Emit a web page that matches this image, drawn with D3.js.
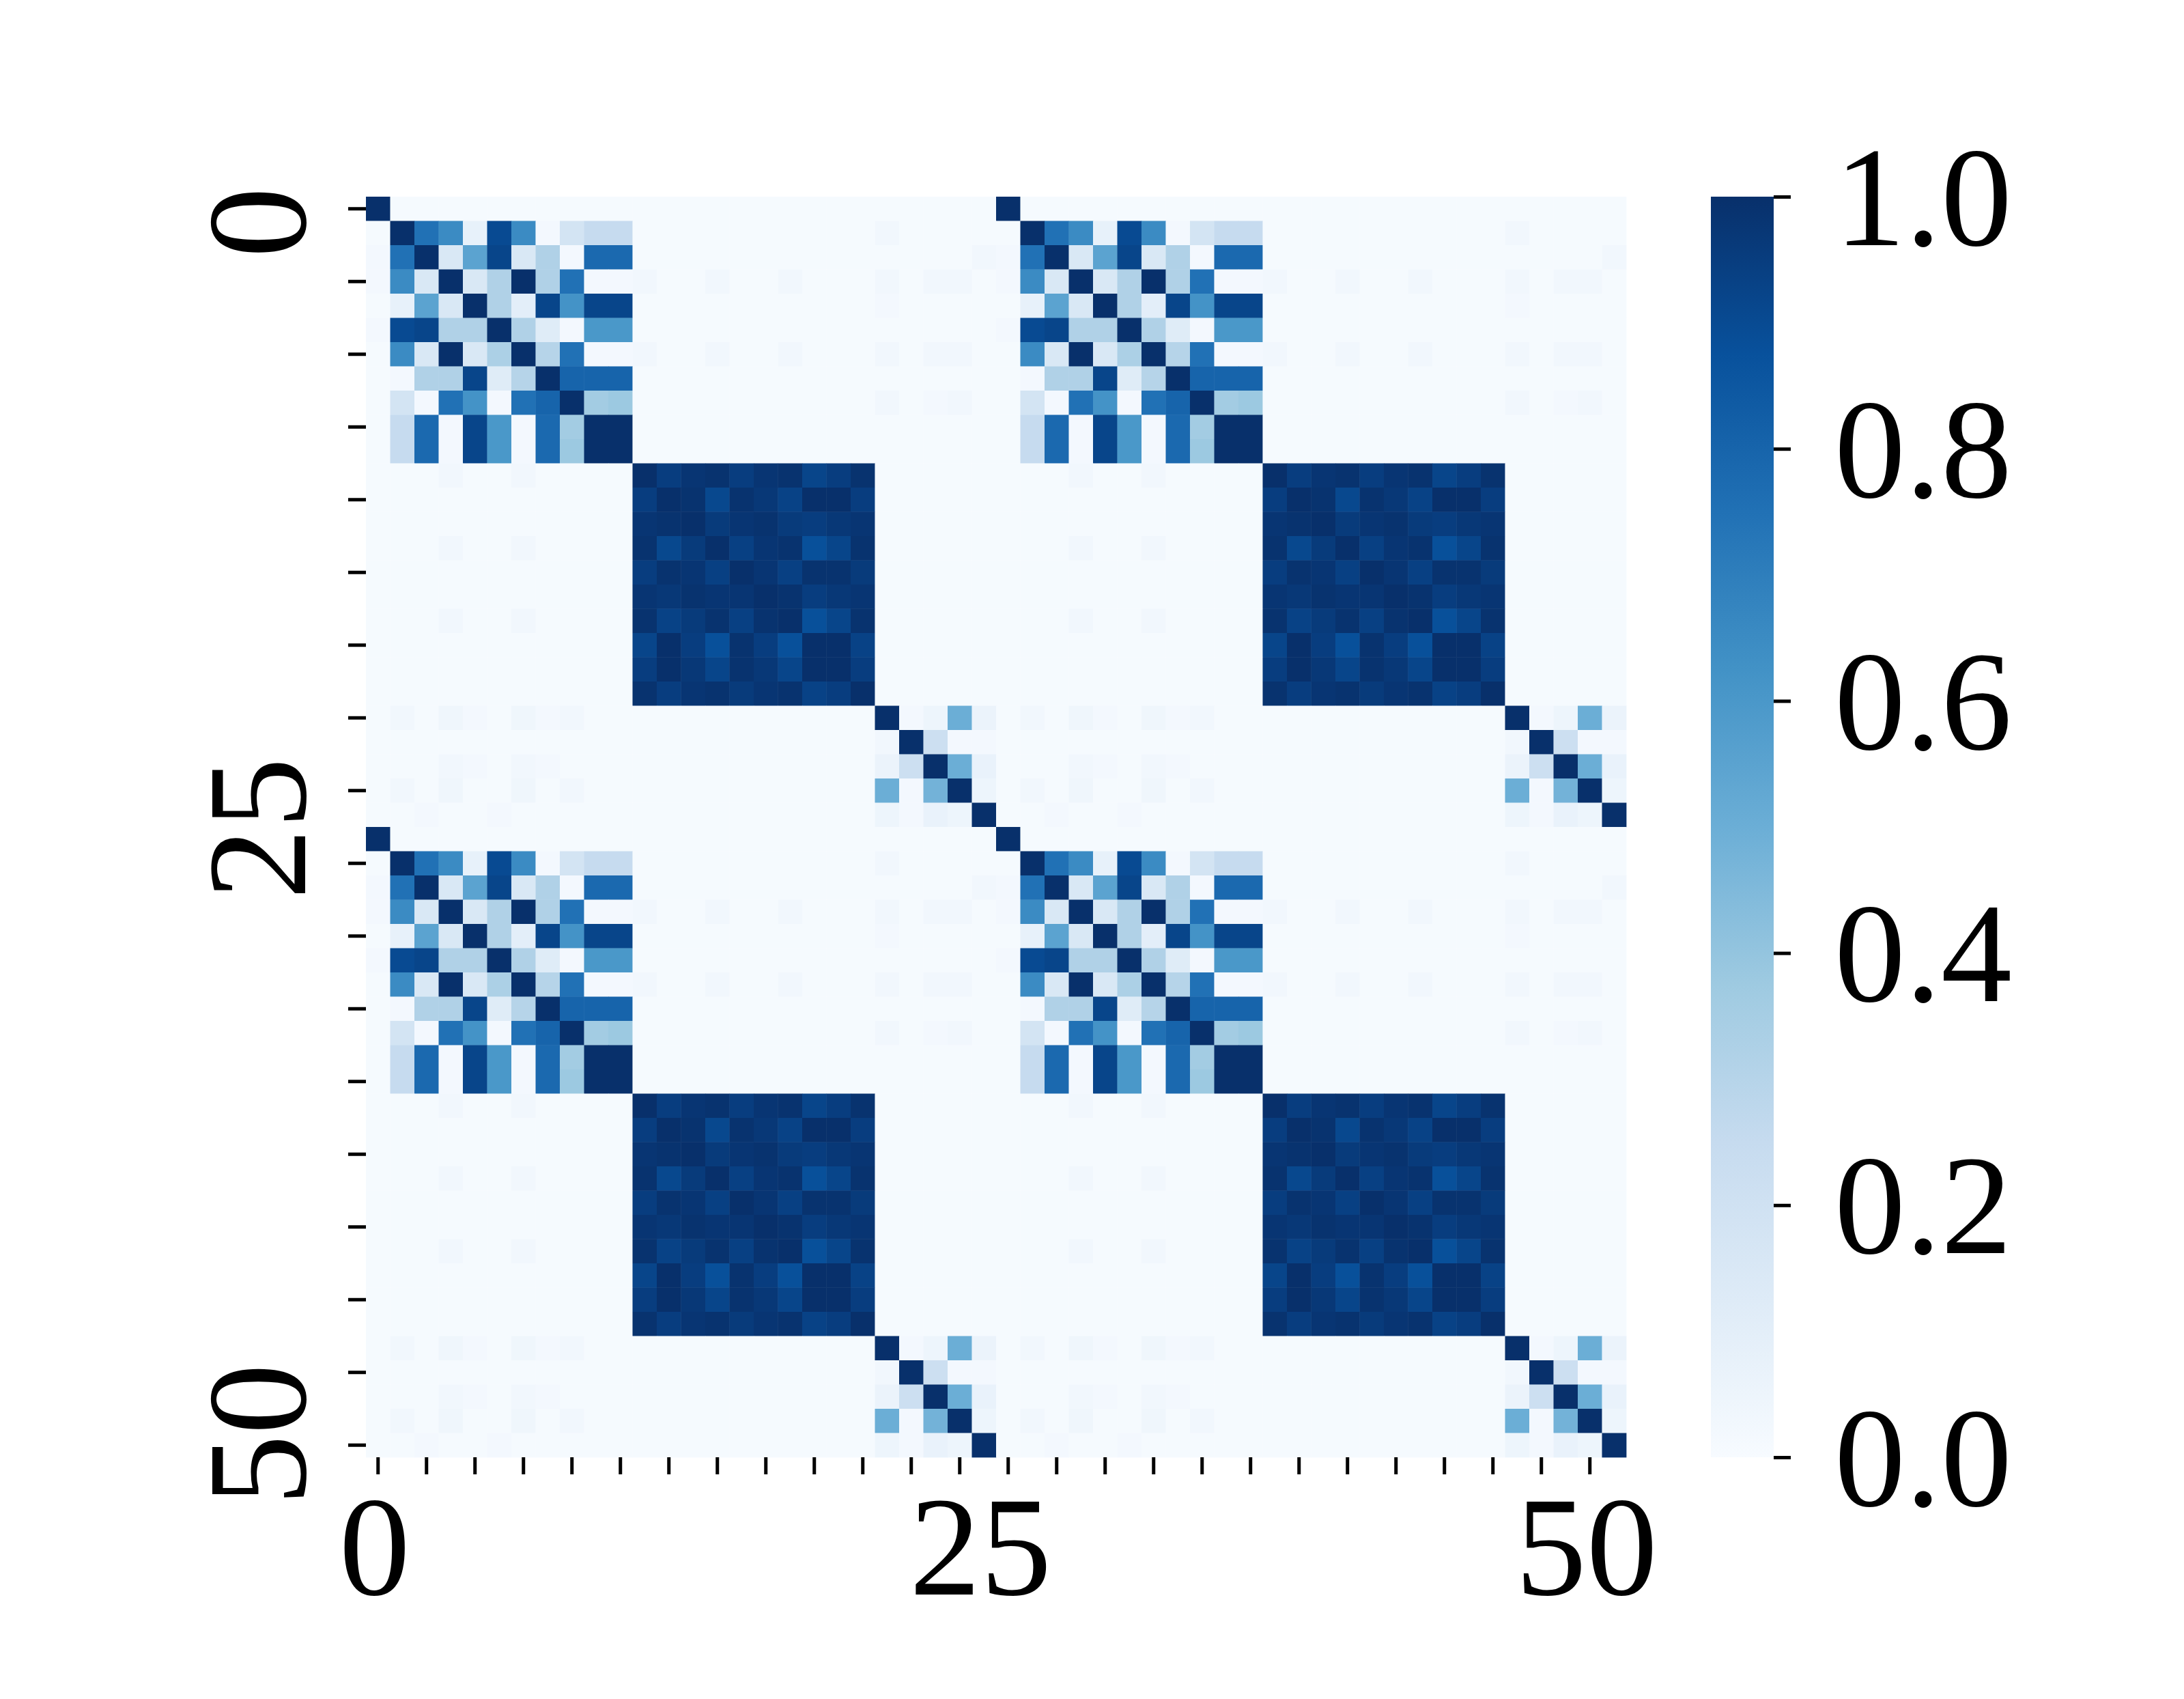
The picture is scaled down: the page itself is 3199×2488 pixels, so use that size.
<!DOCTYPE html>
<html>
<head>
<meta charset="utf-8">
<script src="https://cdn.jsdelivr.net/npm/d3@7"></script>
<style>
  body { margin: 0; background: #ffffff; }
  svg { display: block; }
  .lbl { font-family: "Liberation Serif", "Times New Roman", serif; font-size: 208px; fill: #000000; }
</style>
</head>
<body>
<div id="heatmap"></div>
<script>

// tick labels
var xTickLabels = [0, 25, 50];
var yTickLabels = [0, 25, 50];
var colorbarTicks = [0.0, 0.2, 0.4, 0.6, 0.8, 1.0];

// one 26 x 26 tile of the matrix
// (the full 52 x 52 picture is this tile repeated 2 x 2)
var baseMatrix = [
  [1.00, 0.01,0.01,0.01,0.01,0.01,0.01,0.01,0.01,0.01,0.01, 0.01,0.01,0.01,0.01,0.01,0.01,0.01,0.01,0.01,0.01, 0.01,0.01,0.01,0.01,0.01],
  [0.01, 1.00,0.75,0.65,0.08,0.90,0.65,0.02,0.18,0.25,0.25, 0.01,0.01,0.01,0.01,0.01,0.01,0.01,0.01,0.01,0.01, 0.03,0.01,0.01,0.01,0.01],
  [0.02, 0.75,1.00,0.15,0.55,0.92,0.15,0.32,0.02,0.78,0.78, 0.01,0.01,0.01,0.01,0.01,0.01,0.01,0.01,0.01,0.01, 0.01,0.01,0.01,0.01,0.03],
  [0.02, 0.65,0.15,1.00,0.15,0.32,1.00,0.32,0.75,0.02,0.02, 0.03,0.01,0.01,0.03,0.01,0.01,0.03,0.01,0.01,0.01, 0.03,0.01,0.03,0.03,0.01],
  [0.01, 0.08,0.55,0.15,1.00,0.32,0.10,0.92,0.62,0.92,0.92, 0.01,0.01,0.01,0.01,0.01,0.01,0.01,0.01,0.01,0.01, 0.02,0.01,0.01,0.01,0.01],
  [0.02, 0.90,0.92,0.32,0.32,1.00,0.32,0.12,0.02,0.60,0.60, 0.01,0.01,0.01,0.01,0.01,0.01,0.01,0.01,0.01,0.01, 0.01,0.01,0.01,0.01,0.01],
  [0.01, 0.65,0.15,1.00,0.15,0.33,1.00,0.30,0.75,0.02,0.02, 0.03,0.01,0.01,0.03,0.01,0.01,0.03,0.01,0.01,0.01, 0.03,0.01,0.03,0.03,0.01],
  [0.01, 0.02,0.32,0.32,0.92,0.12,0.30,1.00,0.80,0.80,0.80, 0.01,0.01,0.01,0.01,0.01,0.01,0.01,0.01,0.01,0.01, 0.01,0.01,0.01,0.01,0.01],
  [0.01, 0.18,0.02,0.75,0.62,0.02,0.75,0.80,1.00,0.36,0.38, 0.01,0.01,0.01,0.01,0.01,0.01,0.01,0.01,0.01,0.01, 0.03,0.01,0.02,0.03,0.01],
  [0.01, 0.25,0.78,0.02,0.92,0.60,0.02,0.78,0.36,1.00,1.00, 0.01,0.01,0.01,0.01,0.01,0.01,0.01,0.01,0.01,0.01, 0.01,0.01,0.01,0.01,0.01],
  [0.01, 0.25,0.78,0.02,0.92,0.60,0.02,0.78,0.38,1.00,1.00, 0.01,0.01,0.01,0.01,0.01,0.01,0.01,0.01,0.01,0.01, 0.01,0.01,0.01,0.01,0.01],
  [0.01, 0.01,0.01,0.03,0.01,0.01,0.03,0.01,0.01,0.01,0.01, 1.00,0.95,0.98,0.99,0.95,0.98,0.99,0.92,0.95,0.99, 0.01,0.01,0.01,0.01,0.01],
  [0.01, 0.01,0.01,0.01,0.01,0.01,0.01,0.01,0.01,0.01,0.01, 0.95,1.00,0.99,0.91,0.99,0.97,0.93,1.00,1.00,0.95, 0.01,0.01,0.01,0.01,0.01],
  [0.01, 0.01,0.01,0.01,0.01,0.01,0.01,0.01,0.01,0.01,0.01, 0.98,0.99,1.00,0.96,0.98,0.99,0.96,0.95,0.97,0.98, 0.01,0.01,0.01,0.01,0.01],
  [0.01, 0.01,0.01,0.03,0.01,0.01,0.03,0.01,0.01,0.01,0.01, 0.99,0.91,0.96,1.00,0.94,0.98,0.99,0.88,0.92,0.99, 0.01,0.01,0.01,0.01,0.01],
  [0.01, 0.01,0.01,0.01,0.01,0.01,0.01,0.01,0.01,0.01,0.01, 0.95,0.99,0.98,0.94,1.00,0.98,0.94,0.99,0.99,0.96, 0.01,0.01,0.01,0.01,0.01],
  [0.01, 0.01,0.01,0.01,0.01,0.01,0.01,0.01,0.01,0.01,0.01, 0.98,0.97,0.99,0.98,0.98,1.00,0.99,0.95,0.97,0.98, 0.01,0.01,0.01,0.01,0.01],
  [0.01, 0.01,0.01,0.03,0.01,0.01,0.03,0.01,0.01,0.01,0.01, 0.99,0.93,0.96,0.99,0.94,0.99,1.00,0.88,0.92,0.99, 0.01,0.01,0.01,0.01,0.01],
  [0.01, 0.01,0.01,0.01,0.01,0.01,0.01,0.01,0.01,0.01,0.01, 0.92,1.00,0.95,0.88,0.99,0.95,0.88,1.00,1.00,0.93, 0.01,0.01,0.01,0.01,0.01],
  [0.01, 0.01,0.01,0.01,0.01,0.01,0.01,0.01,0.01,0.01,0.01, 0.95,1.00,0.97,0.92,0.99,0.97,0.92,1.00,1.00,0.95, 0.01,0.01,0.01,0.01,0.01],
  [0.01, 0.01,0.01,0.01,0.01,0.01,0.01,0.01,0.01,0.01,0.01, 0.99,0.95,0.98,0.99,0.96,0.98,0.99,0.93,0.95,1.00, 0.01,0.01,0.01,0.01,0.01],
  [0.01, 0.03,0.01,0.04,0.02,0.01,0.04,0.02,0.03,0.01,0.01, 0.01,0.01,0.01,0.01,0.01,0.01,0.01,0.01,0.01,0.01, 1.00,0.02,0.05,0.50,0.06],
  [0.01, 0.01,0.01,0.01,0.01,0.01,0.01,0.01,0.01,0.01,0.01, 0.01,0.01,0.01,0.01,0.01,0.01,0.01,0.01,0.01,0.01, 0.03,1.00,0.22,0.02,0.02],
  [0.01, 0.01,0.01,0.03,0.02,0.01,0.03,0.02,0.01,0.01,0.01, 0.01,0.01,0.01,0.01,0.01,0.01,0.01,0.01,0.01,0.01, 0.06,0.22,1.00,0.50,0.07],
  [0.01, 0.03,0.01,0.04,0.01,0.01,0.04,0.01,0.03,0.01,0.01, 0.01,0.01,0.01,0.01,0.01,0.01,0.01,0.01,0.01,0.01, 0.50,0.02,0.48,1.00,0.05],
  [0.01, 0.01,0.02,0.01,0.01,0.02,0.01,0.01,0.01,0.01,0.01, 0.01,0.01,0.01,0.01,0.01,0.01,0.01,0.01,0.01,0.01, 0.05,0.02,0.07,0.05,1.00]
];
var tileRepeat = 2;

// page and plot placement
var width = 3199, height = 2488;
var plot = {left: 536, top: 288, right: 2382, bottom: 2134};
var cbar = {left: 2506, right: 2598};

var svg = d3.select("#heatmap")
  .append("svg")
    .attr("width", width)
    .attr("height", height);

svg.append("rect")
    .attr("width", width)
    .attr("height", height)
    .attr("fill", "#ffffff");

// build the full matrix as cell records
var n = baseMatrix.length * tileRepeat;
var cells = [];
for (var i = 0; i < n; i++) {
  for (var j = 0; j < n; j++) {
    cells.push({row: i, col: j, value: baseMatrix[i % baseMatrix.length][j % baseMatrix.length]});
  }
}

// scales
var x = d3.scaleBand().domain(d3.range(n)).range([plot.left, plot.right]).padding(0);
var y = d3.scaleBand().domain(d3.range(n)).range([plot.top, plot.bottom]).padding(0);

// matplotlib style Blues: straight lines between the 9 brewer colours
var blues = d3.schemeBlues[9];
var color = d3.scaleLinear()
  .domain(blues.map(function(d, k) { return k / (blues.length - 1); }))
  .range(blues)
  .clamp(true);

// the cells
svg.append("g")
  .selectAll("rect")
  .data(cells)
  .enter()
    .append("rect")
      .attr("x", function(d) { return x(d.col); })
      .attr("y", function(d) { return y(d.row); })
      .attr("width", x.bandwidth() + 0.4)
      .attr("height", y.bandwidth() + 0.4)
      .attr("fill", function(d) { return color(d.value); });

// Y axis: ticks every 3 cells, labels drawn below
var yAxis = svg.append("g")
    .attr("transform", "translate(" + plot.left + ",0)")
    .call(d3.axisLeft(y)
      .tickValues(d3.range(0, n, 3))
      .tickSize(26)
      .tickFormat(""));
yAxis.select(".domain").remove();
yAxis.selectAll("line").attr("stroke", "#000").attr("stroke-width", 5);

svg.append("g")
  .selectAll("text")
  .data(yTickLabels)
  .enter()
    .append("text")
      .attr("class", "lbl")
      .attr("text-anchor", "middle")
      .attr("transform", function(d) {
        return "translate(447," + (y(d) + y.bandwidth() / 2 + 20) + ") rotate(-90)";
      })
      .text(function(d) { return d; });

// X axis: ticks every 2 cells
var xAxis = svg.append("g")
    .attr("transform", "translate(0," + plot.bottom + ")")
    .call(d3.axisBottom(x)
      .tickValues(d3.range(0, n, 2))
      .tickSize(25)
      .tickFormat(""));
xAxis.select(".domain").remove();
xAxis.selectAll("line").attr("stroke", "#000").attr("stroke-width", 5);

svg.append("g")
  .selectAll("text")
  .data(xTickLabels)
  .enter()
    .append("text")
      .attr("class", "lbl")
      .attr("text-anchor", "middle")
      .attr("x", function(d) { return x(d) + x.bandwidth() / 2 - 5; })
      .attr("y", 2335)
      .text(function(d) { return d; });

// Colorbar
var grad = svg.append("defs").append("linearGradient")
    .attr("id", "cbar-grad")
    .attr("x1", 0).attr("y1", 1)
    .attr("x2", 0).attr("y2", 0);
grad.selectAll("stop")
  .data(blues)
  .enter()
    .append("stop")
      .attr("offset", function(d, k) { return k / (blues.length - 1); })
      .attr("stop-color", function(d) { return d; });

svg.append("rect")
    .attr("x", cbar.left)
    .attr("y", plot.top)
    .attr("width", cbar.right - cbar.left)
    .attr("height", plot.bottom - plot.top)
    .attr("fill", "url(#cbar-grad)");

var c = d3.scaleLinear().domain([0, 1]).range([plot.bottom, plot.top]);
var cAxis = svg.append("g")
    .attr("transform", "translate(" + cbar.right + ",0)")
    .call(d3.axisRight(c)
      .tickValues(colorbarTicks)
      .tickSize(25)
      .tickFormat(d3.format(".1f")));
cAxis.select(".domain").remove();
cAxis.selectAll("line").attr("stroke", "#000").attr("stroke-width", 5);
cAxis.selectAll("text")
    .attr("class", "lbl")
    .attr("x", 89)
    .attr("dy", null)
    .attr("y", 70)
    .attr("text-anchor", "start")
    .attr("fill", "#000")
    .style("font-size", "208px")
    .style("font-family", "'Liberation Serif', 'Times New Roman', serif");

</script>
</body>
</html>
